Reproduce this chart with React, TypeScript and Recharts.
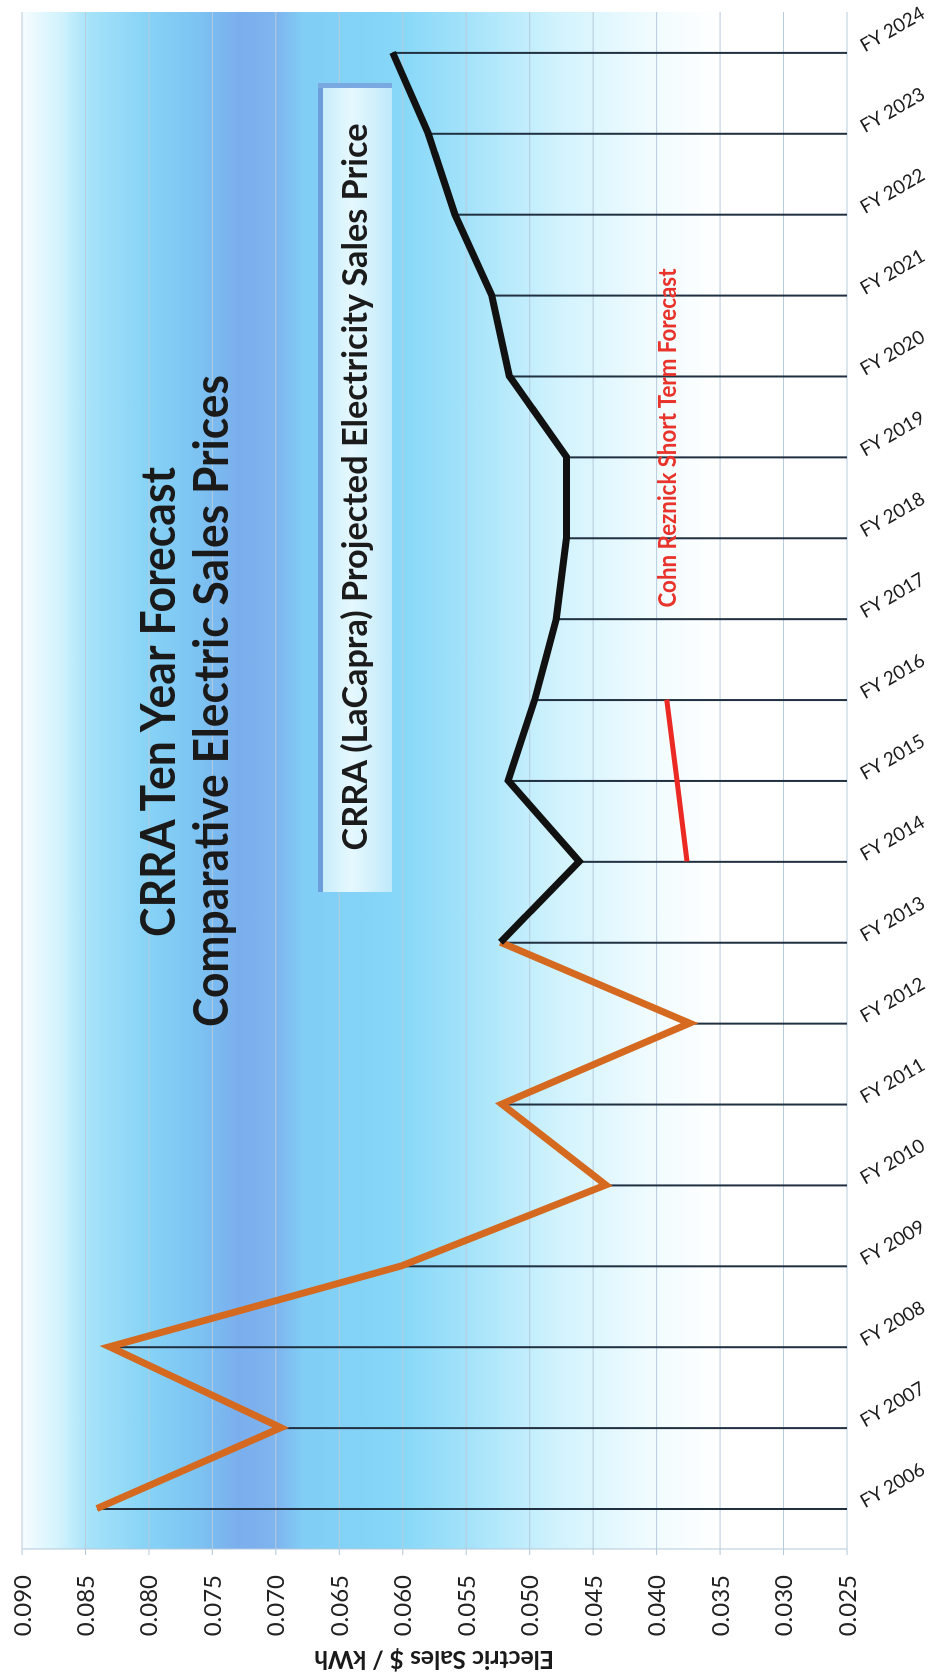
import React from "react"
import { ComposedChart, Line, Bar, XAxis, YAxis, CartesianGrid, Legend } from "recharts"

// The scanned chart is a landscape Excel chart turned a quarter turn, so it is drawn
// in its own landscape frame and rotated into the portrait page.
const fiscalYears = [
  "FY 2006", "FY 2007", "FY 2008", "FY 2009", "FY 2010", "FY 2011", "FY 2012",
  "FY 2013", "FY 2014", "FY 2015", "FY 2016", "FY 2017", "FY 2018", "FY 2019",
  "FY 2020", "FY 2021", "FY 2022", "FY 2023", "FY 2024",
]

// actual prices (orange)
const historicalPrice = [
  0.0841, 0.0696, 0.0831, 0.0601, 0.0440, 0.0522, 0.0374, 0.0523,
  null, null, null, null, null, null, null, null, null, null, null,
]

// CRRA (LaCapra) projection (black)
const projectedPrice = [
  null, null, null, null, null, null, null,
  0.0523, 0.0461, 0.0517, 0.0496, 0.0479, 0.0471, 0.0471, 0.0516, 0.0530, 0.0559, 0.0580, 0.0608,
]

// Cohn Reznick short term forecast (red)
const cohnReznickPrice = [
  null, null, null, null, null, null, null, null,
  0.0376, 0.0384, 0.0392,
  null, null, null, null, null, null, null, null,
]

const priceTicks = [0.025, 0.03, 0.035, 0.04, 0.045, 0.05, 0.055, 0.06, 0.065, 0.07, 0.075, 0.08, 0.085, 0.09]
const minorTicks = Array.from({ length: 66 }, (_, i) => +(0.025 + i * 0.001).toFixed(3))

const data = fiscalYears.map((year, i) => ({
  year,
  historical: historicalPrice[i],
  projected: projectedPrice[i],
  cohnReznick: cohnReznickPrice[i],
  drop: historicalPrice[i] ?? projectedPrice[i],
}))

const W = 1677
const H = 929
const FONT = "Lato, 'Open Sans', sans-serif"

const FyTick = ({ x, y, payload }: any) => (
  <text
    x={x}
    y={y}
    transform={`rotate(60, ${x}, ${y})`}
    textAnchor="start"
    fontSize={19}
    fontFamily={FONT}
    fill="#1d1d1d"
  >
    {payload.value}
  </text>
)

const MinorTick = ({ x, y }: any) => (
  <line x1={x - 4} x2={x + 5} y1={y} y2={y} stroke="#b4c8d8" strokeWidth={1} />
)

const LegendBox = ({ payload }: any) => {
  const entry = (payload || []).find((p: any) => p.dataKey === "projected")
  return (
    <svg width={809} height={74} style={{ display: "block" }}>
      <defs>
        <linearGradient id="legendFill" x1="0" y1="0" x2="0" y2="1">
          <stop offset="0%" stopColor="#c3ebfb" />
          <stop offset="45%" stopColor="#e6f8fe" />
          <stop offset="100%" stopColor="#bfe9fa" />
        </linearGradient>
      </defs>
      <rect x={0} y={0} width={809} height={74} fill="url(#legendFill)" />
      <rect x={0} y={0} width={809} height={5} fill="#6d9edc" />
      <rect x={804} y={0} width={5} height={74} fill="#7aa8e0" />
      <text
        x={405}
        y={49}
        textAnchor="middle"
        fontSize={35}
        fontWeight="bold"
        fontFamily={FONT}
        fill="#1b1b1b"
        textLength={727}
        lengthAdjust="spacingAndGlyphs"
      >
        {entry ? entry.value : ""}
      </text>
    </svg>
  )
}

export default function App() {
  return (
    <div
      style={{
        position: "fixed",
        top: 0,
        left: 0,
        width: W,
        height: H,
        background: "#fff",
        transformOrigin: "0 0",
        transform: `translate(0px, ${W}px) rotate(-90deg)`,
      }}
    >
      <ComposedChart width={W} height={H} data={data} margin={{ top: 22, right: 12, bottom: 0, left: 0 }}>
        <defs>
          <linearGradient id="plotFill" x1="0" y1="0" x2="0" y2="1">
            <stop offset="0%" stopColor="#f6fcff" />
            <stop offset="4.6%" stopColor="#d2f3fd" />
            <stop offset="8.1%" stopColor="#a6e3f9" />
            <stop offset="15.5%" stopColor="#86d2f6" />
            <stop offset="21.6%" stopColor="#7cc2f2" />
            <stop offset="26.4%" stopColor="#7aaeed" />
            <stop offset="31%" stopColor="#7fb5ef" />
            <stop offset="34%" stopColor="#80cdf5" />
            <stop offset="45.8%" stopColor="#86d7f8" />
            <stop offset="54.3%" stopColor="#a5e3fa" />
            <stop offset="65.2%" stopColor="#d2f3fd" />
            <stop offset="76.1%" stopColor="#f0fbfe" />
            <stop offset="84.6%" stopColor="#ffffff" />
            <stop offset="100%" stopColor="#ffffff" />
          </linearGradient>
        </defs>
        <CartesianGrid vertical={false} stroke="#b7cbdb" fill="url(#plotFill)" fillOpacity={1} />
        <XAxis
          dataKey="year"
          type="category"
          height={82}
          axisLine={false}
          tickLine={false}
          tickSize={0}
          tickMargin={18}
          interval={0}
          tick={<FyTick />}
        />
        <YAxis
          yAxisId="minor"
          type="number"
          domain={[0.025, 0.09]}
          allowDataOverflow
          ticks={minorTicks}
          width={0}
          axisLine={false}
          tickLine={false}
          tickSize={0}
          tickMargin={0}
          interval={0}
          tick={<MinorTick />}
        />
        <YAxis
          type="number"
          domain={[0.025, 0.09]}
          allowDataOverflow
          ticks={priceTicks}
          interval={0}
          width={128}
          tickFormatter={(v: number) => v.toFixed(3)}
          tick={{ fontSize: 24, fontFamily: FONT, fill: "#222" }}
          axisLine={{ stroke: "#b4c8d8" }}
          tickLine={{ stroke: "#b4c8d8" }}
          tickSize={6}
          tickMargin={20}
        />
        <Legend
          layout="horizontal"
          verticalAlign="middle"
          align="center"
          wrapperStyle={{ left: 785, top: 318, width: 809, height: 74 }}
          content={<LegendBox />}
        />
        <Bar dataKey="drop" barSize={2} fill="#203040" isAnimationActive={false} legendType="none" name="drop line" />
        <Line
          dataKey="historical"
          name="Actual Electricity Sales Price"
          stroke="#d4691f"
          strokeWidth={7}
          dot={false}
          activeDot={false}
          isAnimationActive={false}
        />
        <Line
          dataKey="projected"
          name="CRRA (LaCapra) Projected Electricity Sales Price"
          stroke="#111111"
          strokeWidth={7}
          dot={false}
          activeDot={false}
          isAnimationActive={false}
        />
        <Line
          dataKey="cohnReznick"
          name="Cohn Reznick Short Term Forecast"
          stroke="#ec2a24"
          strokeWidth={5}
          dot={false}
          activeDot={false}
          isAnimationActive={false}
        />
      </ComposedChart>
      <svg
        width={W}
        height={H}
        style={{ position: "absolute", top: 0, left: 0, pointerEvents: "none" }}
      >
        <text x={975} y={175} textAnchor="middle" fontSize={48} fontWeight="bold" fontFamily={FONT} fill="#1a1a1a"
          textLength={470} lengthAdjust="spacingAndGlyphs">
          CRRA Ten Year Forecast
        </text>
        <text x={976} y={228} textAnchor="middle" fontSize={48} fontWeight="bold" fontFamily={FONT} fill="#1a1a1a"
          textLength={652} lengthAdjust="spacingAndGlyphs">
          Comparative Electric Sales Prices
        </text>
        <text x={1239} y={676} textAnchor="middle" fontSize={24} fontWeight="bold" fontFamily={FONT} fill="#e8322a"
          textLength={339} lengthAdjust="spacingAndGlyphs">
          Cohn Reznick Short Term Forecast
        </text>
        <text x={26} y={434} transform="rotate(-90, 26, 434)" textAnchor="middle" fontSize={25} fontWeight="bold"
          fontFamily={FONT} fill="#1a1a1a" textLength={240} lengthAdjust="spacingAndGlyphs">
          Electric Sales $ / kWh
        </text>
      </svg>
    </div>
  )
}
